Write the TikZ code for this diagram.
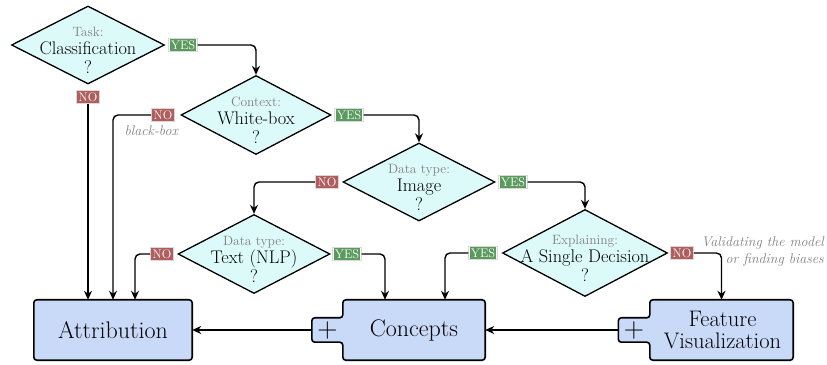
\documentclass[tikz,border=0pt]{standalone}
\usepackage{fontspec}
\setmainfont{Latin Modern Roman}
\usetikzlibrary{shapes.geometric,arrows.meta,backgrounds,calc}
\definecolor{diafill}{HTML}{DDFAFA}
\definecolor{boxfill}{HTML}{C9DAF8}
\definecolor{yescol}{HTML}{5B9A5E}
\definecolor{nocol}{HTML}{B05D5D}
\definecolor{qgray}{HTML}{7F7F7F}
\newcommand{\qlab}[1]{{\fontsize{13.5}{14}\selectfont\color{qgray}#1}}
\newcommand{\yeslab}{\setlength{\fboxsep}{1.2pt}\colorbox{yescol}{\textcolor{white}{YES}}}
\newcommand{\nolab}{\setlength{\fboxsep}{1.2pt}\colorbox{nocol}{\textcolor{white}{NO}}}
\begin{document}
\begin{tikzpicture}[x=1pt,y=1pt,
  decision/.style 2 args={diamond, draw, line width=1.3pt, fill=diafill, inner sep=0pt,
    minimum width=#1, minimum height=#2},
  dtext/.style={align=center, inner sep=0pt, font=\fontsize{18.3}{19}\selectfont},
  lbl/.style={fill=white, draw=black!15, line width=0.6pt, inner sep=1pt, font=\fontsize{12.5}{13}\selectfont},
  arr/.style={line width=1.4pt, rounded corners=5pt, -{Stealth[length=9pt,width=8pt]}},
  frame/.style={draw, line width=1.6pt, fill=boxfill, rounded corners=3pt},
  anchorbox/.style={inner sep=0pt, minimum width=#1, minimum height=60pt},
  tabbox/.style={inner sep=0pt, minimum width=31pt, minimum height=24pt},
  boxtext/.style={align=center, inner sep=0pt, font=\fontsize{24}{21}\selectfont},
  twotext/.style={align=center, inner sep=0pt, font=\fontsize{22.5}{22}\selectfont},
  plustext/.style={inner sep=0pt, font=\fontsize{28}{28}\selectfont},
  note/.style={inner sep=0pt, font=\fontsize{14}{17}\selectfont\itshape, text=qgray}]
\useasboundingbox (0,0) rectangle (827,364);

% decisions
\node[decision={153pt}{78pt}] (d1) at (88,319) {};
\node[decision={150pt}{79pt}] (d2) at (256,249) {};
\node[decision={152pt}{78pt}] (d3) at (419,182) {};
\node[decision={152pt}{79pt}] (d4) at (254,110) {};
\node[decision={165pt}{87pt}] (d5) at (585,111) {};

\node[dtext] (t1) at ($(d1)+(0,-5)$) {\qlab{Task:}\\[-1pt] Classification\\ ?};
\node[dtext] (t2) at ($(d2)+(0,-5)$) {\qlab{Context:}\\[-1pt] White-box\\ ?};
\node[dtext] (t3) at ($(d3)+(0,-5)$) {\qlab{Data type:}\\[-1pt] Image\\ ?};
\node[dtext] (t4) at ($(d4)+(0,-5)$) {\qlab{Data type:}\\[-1pt] Text (NLP)\\ ?};
\node[dtext] (t5) at ($(d5)+(0,-5)$) {\qlab{Explaining:}\\[-1pt] A Single Decision\\ ?};

% boxes
\node[anchorbox=158pt] (attr) at (113,34) {};
\node[anchorbox=142pt] (conc) at (414,34) {};
\node[tabbox] (ctab) at (327.5,34) {};
\node[anchorbox=143pt] (feat) at (721.5,34) {};
\node[tabbox] (ftab) at (634,34) {};

\begin{scope}[on background layer]
\draw[frame] (attr.south west) rectangle (attr.north east);
\draw[frame] (conc.south west) -- (conc.west |- ctab.south) -- (ctab.south west)
  -- (ctab.north west) -- (conc.west |- ctab.north) -- (conc.north west)
  -- (conc.north east) -- (conc.south east) -- cycle;
\draw[frame] (feat.south west) -- (feat.west |- ftab.south) -- (ftab.south west)
  -- (ftab.north west) -- (feat.west |- ftab.north) -- (feat.north west)
  -- (feat.north east) -- (feat.south east) -- cycle;
\end{scope}

\node[boxtext] (attrtxt) at (attr) {Attribution};
\node[boxtext] (conctxt) at (conc) {Concepts};
\node[twotext] (feattxt) at ($(feat)+(1,0)$) {Feature\\Visualization};
\node[plustext] (cplus) at ($(ctab)+(0,-1)$) {+};
\node[plustext] (fplus) at ($(ftab)+(0,-1)$) {+};

% labels
\node[lbl] (y1) at (183,319) {\yeslab};
\node[lbl] (n1) at (88,267) {\nolab};
\node[lbl] (n2) at (163,249) {\nolab};
\node[lbl] (y2) at (349,249) {\yeslab};
\node[lbl] (n3) at (327,182) {\nolab};
\node[lbl] (y3) at (513,182) {\yeslab};
\node[lbl] (n4) at (162,110) {\nolab};
\node[lbl] (y4) at (347,110) {\yeslab};
\node[lbl] (y5) at (483,111) {\yeslab};
\node[lbl] (n5) at (682,111) {\nolab};

\node[note, anchor=east] (bb) at (178,233) {black-box};
\node[note, anchor=east, align=right] (vm) at (824,112) {Validating the model\\or finding biases};

% connectors
\draw[arr] (y1.east) -| (d2.north);
\draw[arr] (n1.south) -- ($(attr.north)+(-25,0)$);
\draw[arr] (n2.west) -| (attr.north);
\draw[arr] (y2.east) -| (d3.north);
\draw[arr] (n3.west) -| (d4.north);
\draw[arr] (y3.east) -| (d5.north);
\draw[arr] (n4.west) -| ($(attr.north)+(22,0)$);
\draw[arr] (y4.east) -| ($(conc.north)+(-29,0)$);
\draw[arr] (y5.west) -| ($(conc.north)+(31,0)$);
\draw[arr] (n5.east) -| (feat.north);
\draw[arr] (ctab.west) -- (attr.east);
\draw[arr] (ftab.west) -- (conc.east);
\end{tikzpicture}
\end{document}
